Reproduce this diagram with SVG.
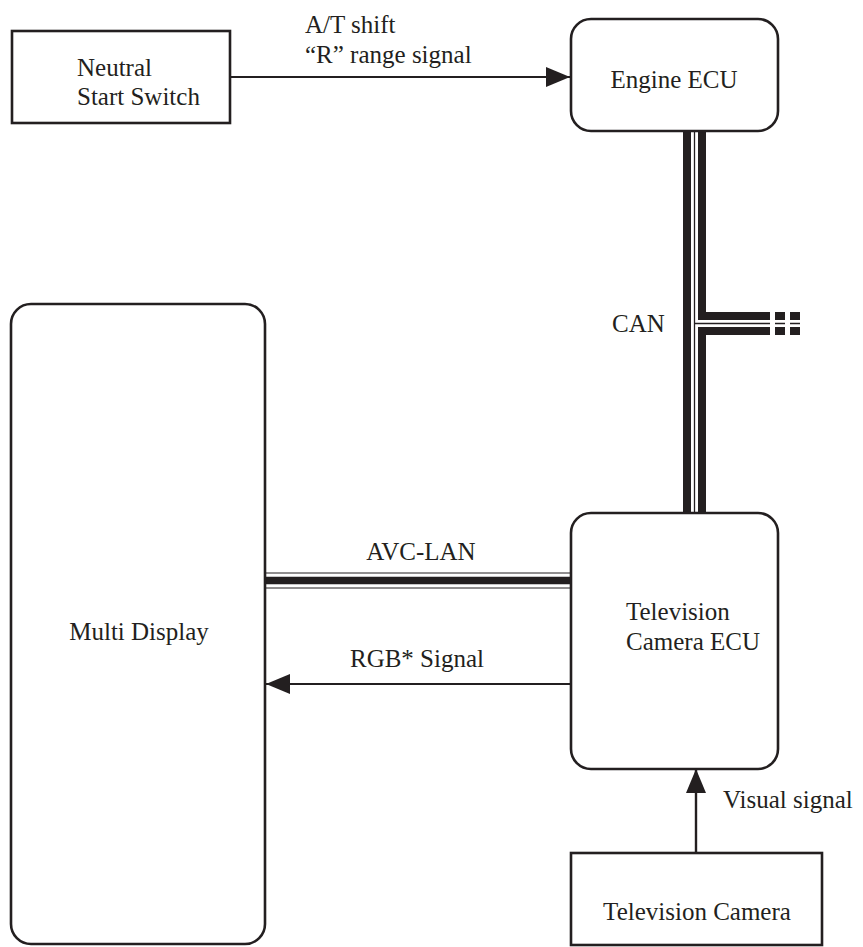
<svg xmlns="http://www.w3.org/2000/svg" width="863" height="947" viewBox="0 0 863 947">
<style>
.box{fill:#fff;stroke:#231f20;stroke-width:2.6}
.t{font-family:"Liberation Serif","Times New Roman","DejaVu Serif",serif;font-size:25px;fill:#231f20}
.m{text-anchor:middle}
.ln{stroke:#231f20;fill:none}
</style>
<defs>
<marker id="ah" viewBox="0 0 24 20" refX="24" refY="10" markerWidth="24" markerHeight="20" markerUnits="userSpaceOnUse" orient="auto">
<path d="M0,0 L24,10 L0,20 Z" fill="#231f20"/>
</marker>
</defs>
<rect width="863" height="947" fill="#fff"/>
<g id="connectors">
<line class="ln" x1="231" y1="77" x2="570" y2="77" stroke-width="2" marker-end="url(#ah)"/>
<line class="ln" x1="570" y1="684" x2="266" y2="684" stroke-width="2" marker-end="url(#ah)"/>
<line class="ln" x1="696" y1="853" x2="696" y2="769" stroke-width="2.4" marker-end="url(#ah)"/>
<line class="ln" x1="265" y1="573" x2="570" y2="573" stroke-width="1"/>
<line class="ln" x1="265" y1="580.5" x2="570" y2="580.5" stroke-width="7.5"/>
<line class="ln" x1="265" y1="588" x2="570" y2="588" stroke-width="1"/>
<line class="ln" x1="687" y1="131" x2="687" y2="513" stroke-width="8"/>
<line class="ln" x1="694.5" y1="131" x2="694.5" y2="513" stroke-width="1.3"/>
<path class="ln" d="M702,131 V316 H770" stroke-width="8"/>
<path class="ln" d="M702,513 V331 H770" stroke-width="8"/>
<line class="ln" x1="694.5" y1="323.5" x2="770" y2="323.5" stroke-width="1.3"/>
<path class="ln" d="M775,316 H785 M790,316 H800 M775,331 H785 M790,331 H800" stroke-width="8"/>
<path class="ln" d="M775,323.5 H785 M790,323.5 H800" stroke-width="1.3"/>
</g>
<g id="neutral-start-switch">
<rect class="box" x="12" y="31" width="218" height="92"/>
<text class="t" x="77" y="76">Neutral</text>
<text class="t" x="77" y="105">Start Switch</text>
</g>
<g id="engine-ecu">
<rect class="box" x="571" y="19" width="207" height="112" rx="20"/>
<text class="t m" x="674" y="88">Engine ECU</text>
</g>
<g id="multi-display">
<rect class="box" x="11" y="304" width="254" height="640" rx="20"/>
<text class="t m" x="139" y="640">Multi Display</text>
</g>
<g id="tv-camera-ecu">
<rect class="box" x="571" y="513" width="207" height="256" rx="20"/>
<text class="t" x="626" y="620">Television</text>
<text class="t" x="626" y="650">Camera ECU</text>
</g>
<g id="tv-camera">
<rect class="box" x="571" y="853" width="251" height="92"/>
<text class="t m" x="697" y="920">Television Camera</text>
</g>
<g id="labels">
<text class="t" x="305" y="33">A/T shift</text>
<text class="t" x="305" y="63">“R” range signal</text>
<text class="t" x="612" y="332">CAN</text>
<text class="t m" x="421" y="560">AVC-LAN</text>
<text class="t m" x="417" y="667">RGB* Signal</text>
<text class="t" x="723" y="808">Visual signal</text>
</g>
</svg>
